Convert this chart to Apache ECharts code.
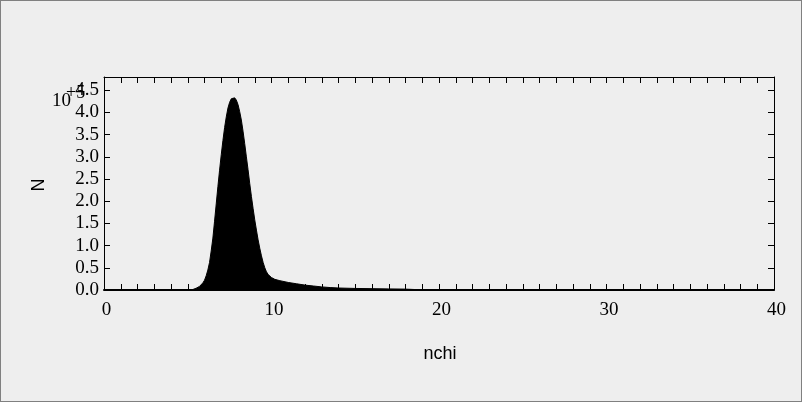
<!DOCTYPE html>
<html>
<head>
<meta charset="utf-8">
<script src="https://cdn.jsdelivr.net/npm/echarts@6/dist/echarts.min.js"></script>
<style>
html,body{margin:0;padding:0;background:#eeeeee;}
#c{width:802px;height:402px;box-sizing:border-box;border:1px solid #808080;}
</style>
</head>
<body>
<div id="c"></div>
<script>
// Histogram of nchi (counts)
var nchi = [5.0,5.3,5.5,5.7,5.9,6.0,6.1,6.2,6.3,6.4,6.5,6.6,6.7,6.8,6.9,7.0,7.1,7.2,7.3,7.4,7.5,7.6,7.7,7.8,7.9,8.0,8.1,8.2,8.3,8.4,8.5,8.6,8.7,8.8,8.9,9.0,9.1,9.2,9.3,9.4,9.5,9.6,9.7,9.8,9.9,10.0,10.2,10.5,11.0,11.5,12.0,12.5,13.0,13.5,14.0,15.0,16.0,17.0,18.0,18.6,19.0];
var counts = [0,1000,4000,8000,16000,22000,32000,45000,62000,88000,117000,155000,194000,233000,270000,305000,337000,366000,390000,410000,423000,431000,434000,433000,428000,418000,402000,383000,358000,330000,300000,271000,240000,211000,184000,158000,135000,113000,94000,77000,62000,50000,41000,35000,31000,28000,24000,21000,17000,14000,11000,9000,7000,5500,4500,3500,3000,2500,2000,1000,0];
var xTicks = [0,10,20,30,40];
var yTicks = ['0.0','0.5','1.0','1.5','2.0','2.5','3.0','3.5','4.0','4.5'];

var data = nchi.map(function(x,i){return [x, counts[i]];});
var serif = 'Liberation Serif';
var chart = echarts.init(document.getElementById('c'), null, {renderer:'canvas'});
var axisCommonX = {
  type:'value', min:0, max:40, interval:1,
  axisLine:{show:true, onZero:false, lineStyle:{color:'#000', width:1}},
  axisTick:{show:true, inside:true, length:6, lineStyle:{color:'#000'}},
  splitLine:{show:false}
};
var axisCommonY = {
  type:'value', min:0, max:480000, interval:50000,
  axisLine:{show:true, onZero:false, lineStyle:{color:'#000', width:1}},
  axisTick:{show:true, inside:true, length:6, lineStyle:{color:'#000'}},
  splitLine:{show:false}
};
chart.setOption({
  backgroundColor:'#eeeeee',
  animation:false,
  grid:{left:103, right:27, top:76, bottom:111, containLabel:false},
  xAxis:[
    Object.assign({}, axisCommonX, {
      position:'bottom',
      axisLine:{show:true, onZero:false, lineStyle:{color:'#000', width:2}},
      axisLabel:{show:true, margin:11, color:'#000', fontFamily:serif, fontSize:19, padding:[0,0,0,5],
        formatter:function(v){ return xTicks.indexOf(v)>=0 ? String(v) : ''; }}
    }),
    Object.assign({}, axisCommonX, {position:'top', axisLabel:{show:false}})
  ],
  yAxis:[
    Object.assign({}, axisCommonY, {
      position:'left',
      axisLabel:{show:true, margin:5, color:'#000', fontFamily:serif, fontSize:19, showMaxLabel:false,
        formatter:function(v){ var i=Math.round(v/50000); return yTicks[i]!==undefined && Math.abs(v-i*50000)<1 ? yTicks[i] : ''; }}
    }),
    Object.assign({}, axisCommonY, {position:'right', axisLabel:{show:false}})
  ],
  graphic:[
    {type:'text', x:51, y:100, style:{text:'10', font:'19px "Liberation Serif"', fill:'#000', verticalAlign:'middle'}},
    {type:'text', x:65, y:92, style:{text:'+5', font:'18px "Liberation Serif"', fill:'#000', verticalAlign:'middle'}},
    {type:'text', x:38, y:184, rotation:Math.PI/2, style:{text:'N', font:'18px "Liberation Sans"', fill:'#000', align:'center', verticalAlign:'middle'}},
    {type:'text', x:439, y:353, style:{text:'nchi', font:'18px "Liberation Sans"', fill:'#000', align:'center', verticalAlign:'middle'}}
  ],
  series:[{
    type:'line', xAxisIndex:0, yAxisIndex:0, data:data,
    symbol:'none', smooth:false,
    lineStyle:{color:'#000', width:1},
    areaStyle:{color:'#000', opacity:1}
  }]
});
</script>
</body>
</html>
